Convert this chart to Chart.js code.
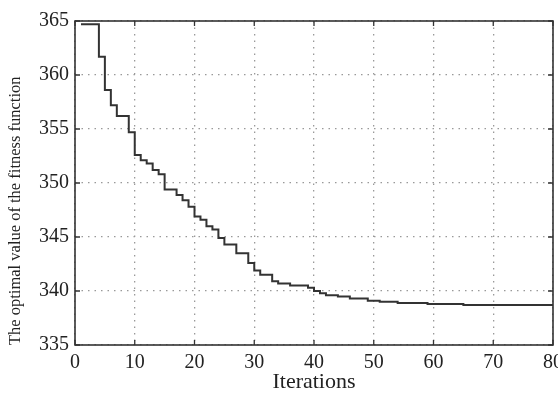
<!DOCTYPE html>
<html>
<head>
<meta charset="utf-8">
<script src="https://cdn.jsdelivr.net/npm/chart.js@4/dist/chart.umd.min.js"></script>
<style>
  html, body { margin: 0; padding: 0; background: #fff; }
  #wrap { width: 558px; height: 399px; }
</style>
</head>
<body>
<div id="wrap"><canvas id="myChart"></canvas></div>
<script>
// iteration numbers and best fitness value found so far
const iterations = [];
for (let i = 1; i <= 80; i++) iterations.push(i);

const fitness = [
  364.7, 364.7, 364.7, 361.7, 358.6, 357.2, 356.2, 356.2, 354.7, 352.6,
  352.1, 351.8, 351.2, 350.8, 349.4, 349.4, 348.9, 348.4, 347.8, 346.9,
  346.6, 346.0, 345.7, 344.9, 344.3, 344.3, 343.5, 343.5, 342.6, 341.9,
  341.5, 341.5, 340.9, 340.7, 340.7, 340.5, 340.5, 340.5, 340.3, 340.0,
  339.8, 339.6, 339.6, 339.5, 339.5, 339.3, 339.3, 339.3, 339.1, 339.1,
  339.0, 339.0, 339.0, 338.9, 338.9, 338.9, 338.9, 338.9, 338.8, 338.8,
  338.8, 338.8, 338.8, 338.8, 338.7, 338.7, 338.7, 338.7, 338.7, 338.7,
  338.7, 338.7, 338.7, 338.7, 338.7, 338.7, 338.7, 338.7, 338.7, 338.7
];

const xTicks = [0, 10, 20, 30, 40, 50, 60, 70, 80];
const yTicks = [335, 340, 345, 350, 355, 360, 365];

const font = "'Liberation Serif', 'Times New Roman', serif";

// box around the plot with small inward ticks, matlab style
const framePlugin = {
  id: "frame",
  afterDraw(chart) {
    const { ctx, chartArea: a, scales } = chart;
    ctx.save();
    ctx.strokeStyle = "#333";
    ctx.lineWidth = 1.6;
    ctx.strokeRect(a.left, a.top, a.right - a.left, a.bottom - a.top);
    ctx.lineWidth = 1.3;
    ctx.beginPath();
    xTicks.forEach((v) => {
      const px = scales.x.getPixelForValue(v);
      ctx.moveTo(px, a.bottom);
      ctx.lineTo(px, a.bottom - 5);
      ctx.moveTo(px, a.top);
      ctx.lineTo(px, a.top + 5);
    });
    yTicks.forEach((v) => {
      const py = scales.y.getPixelForValue(v);
      ctx.moveTo(a.left, py);
      ctx.lineTo(a.left + 5, py);
      ctx.moveTo(a.right, py);
      ctx.lineTo(a.right - 5, py);
    });
    ctx.stroke();
    ctx.restore();
  },
};

const ctx = document.getElementById("myChart").getContext("2d");
const myChart = new Chart(ctx, {
  type: "line",
  data: {
    datasets: [
      {
        data: iterations.map((it, i) => ({ x: it, y: fitness[i] })),
        borderColor: "#333",
        borderWidth: 2,
        pointRadius: 0,
        stepped: true,
        fill: false,
      },
    ],
  },
  options: {
    responsive: true,
    maintainAspectRatio: false,
    animation: false,
    layout: { padding: { top: 21, right: 5, left: 0, bottom: 0 } },
    plugins: { legend: { display: false }, tooltip: { enabled: false } },
    scales: {
      x: {
        type: "linear",
        min: 0,
        max: 80,
        afterBuildTicks: (s) => { s.ticks = xTicks.map((v) => ({ value: v })); },
        afterFit: (s) => {
          s.height = 54;
          s.paddingLeft = 0;
          s.paddingRight = 0;
        },
        grid: { color: "#999", lineWidth: 1.3, drawTicks: false },
        border: { display: false, dash: [1.5, 5] },
        ticks: { color: "#222", font: { family: font, size: 20 }, padding: 6, maxRotation: 0 },
        title: { display: true, text: "Iterations", color: "#222", font: { family: font, size: 22 }, padding: { top: 2 } },
      },
      y: {
        min: 335,
        max: 365,
        afterBuildTicks: (s) => { s.ticks = yTicks.map((v) => ({ value: v })); },
        afterFit: (s) => {
          s.width = 75;
          s.paddingTop = 0;
          s.paddingBottom = 0;
        },
        grid: { color: "#999", lineWidth: 1.3, drawTicks: false },
        border: { display: false, dash: [1.5, 5] },
        ticks: { color: "#222", font: { family: font, size: 20 }, padding: 6 },
        title: {
          display: true,
          text: "The optimal value of the fitness function",
          align: "start",
          color: "#222",
          font: { family: font, size: 16.5 },
          padding: { top: 6, bottom: 0 },
        },
      },
    },
  },
  plugins: [framePlugin],
});
</script>
</body>
</html>
